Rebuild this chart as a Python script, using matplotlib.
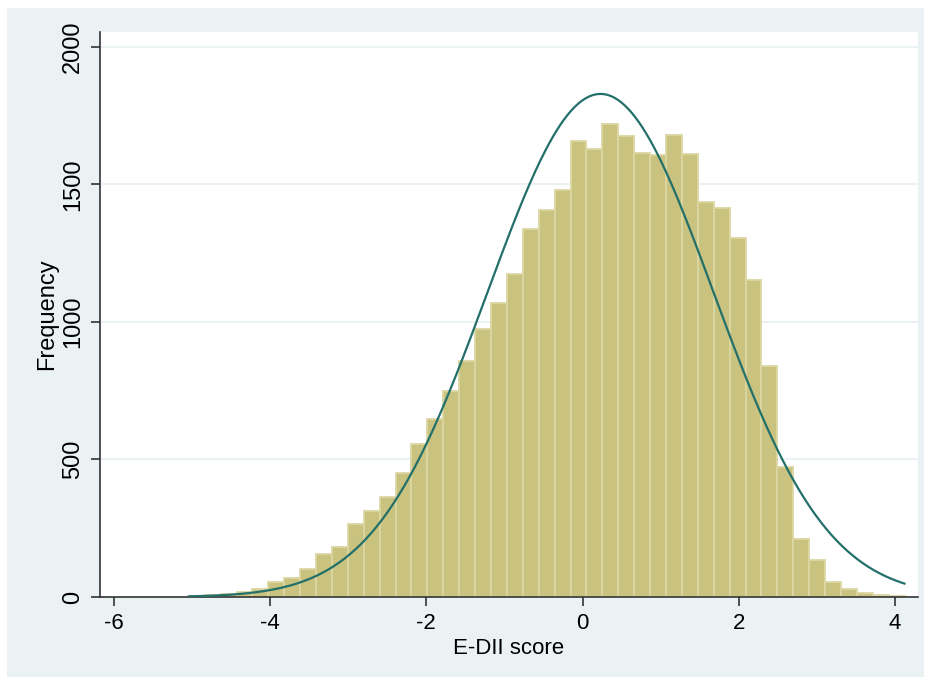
import numpy as np
import matplotlib
matplotlib.use('Agg')
import matplotlib.pyplot as plt
from matplotlib.patches import Rectangle

# 히스토그램 데이터
bin_start = -5.04
bin_width = 0.2036
counts = [3, 8, 12, 19, 29, 55, 69, 101, 156, 181,
          265, 314, 363, 450, 556, 646, 748, 857, 973, 1068,
          1175, 1337, 1407, 1480, 1657, 1628, 1719, 1675, 1616, 1607,
          1680, 1611, 1436, 1415, 1305, 1153, 840, 473, 211, 135,
          55, 29, 15, 7, 4]

# 정규분포 곡선 파라미터
norm_mean = 0.23
norm_sd = 1.445
data_min, data_max = -5.04, 4.12

x_ticks = [-6, -4, -2, 0, 2, 4]
y_ticks = [0, 500, 1000, 1500, 2000]

BG = "#EAF2F3"
BAR = "#CAC37F"
BAR_EDGE = "#DCD7A2"
LINE = "#23706A"
AXC = "#333333"

plt.rcParams['font.family'] = ['Liberation Sans', 'DejaVu Sans']
plt.rcParams['axes.unicode_minus'] = False

W, H = 931, 683
fig = plt.figure(figsize=(W / 100, H / 100), dpi=100)
fig.patch.set_facecolor("white")
fig.add_artist(Rectangle((7 / W, 1 - 677 / H), (924 - 7) / W, (677 - 8) / H,
                         transform=fig.transFigure, facecolor=BG,
                         edgecolor="none", zorder=-10))

ax = fig.add_axes([100 / W, 1 - 597 / H, (918 - 100) / W, (597 - 32) / H])
ax.set_zorder(1)
ax.set_facecolor("white")

edges = bin_start + bin_width * np.arange(len(counts))
ax.bar(edges, counts, width=bin_width, align='edge', color=BAR,
       edgecolor=BAR_EDGE, linewidth=1.3, zorder=2)

n = sum(counts)
xs = np.linspace(data_min, data_max, 400)
ys = n * bin_width * np.exp(-0.5 * ((xs - norm_mean) / norm_sd) ** 2) / (norm_sd * np.sqrt(2 * np.pi))
ax.plot(xs, ys, color=LINE, linewidth=1.6, zorder=3)

ax.set_xlim(-6.177, 4.294)
ax.set_ylim(0, 2054.5)
ax.set_xticks(x_ticks)
ax.set_yticks(y_ticks)
ax.set_yticklabels([str(v) for v in y_ticks], rotation=90, va='center')

for v in y_ticks[1:]:
    ax.axhline(v, color=BG, linewidth=1.5, zorder=1)

for s in ("top", "right"):
    ax.spines[s].set_visible(False)
for s in ("left", "bottom"):
    ax.spines[s].set_color(AXC)
    ax.spines[s].set_linewidth(1.2)

ax.tick_params(axis='both', direction='out', length=6.5, width=1.2, color=AXC,
               labelcolor="black")
ax.tick_params(axis='y', pad=5, labelsize=17)
ax.tick_params(axis='x', pad=5, labelsize=16)

ax.set_xlabel("E-DII score", fontsize=16, labelpad=3)
ax.set_ylabel("Frequency", fontsize=17, labelpad=3)

fig.savefig("out.png", dpi=100, facecolor=fig.get_facecolor())
